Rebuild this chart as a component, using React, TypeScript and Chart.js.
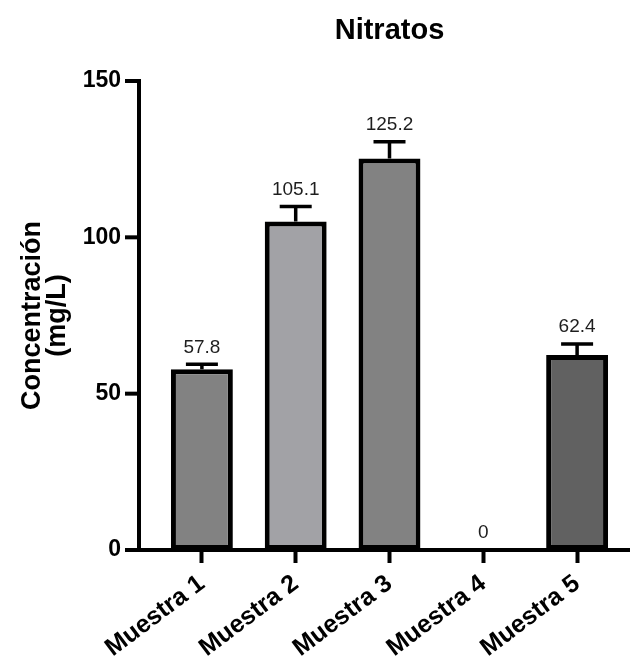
import React, { useEffect, useRef } from "react";
import { Chart, registerables } from "chart.js";

Chart.register(...registerables);

const categories = ["Muestra 1", "Muestra 2", "Muestra 3", "Muestra 4", "Muestra 5"];
const values = [57.8, 105.1, 125.2, 0, 62.4];
const errors = [1.6, 4.8, 5.4, 0, 3.5];
const barColors = ["#828282", "#a2a2a6", "#828282", "#828282", "#616161"];
const yTicks = [0, 50, 100, 150];

const FONT = "'Liberation Sans', Arial, Helvetica, sans-serif";

const decorPlugin = {
  id: "decor",
  afterDatasetsDraw(chart: any) {
    const { ctx, chartArea } = chart;
    const y = chart.scales.y;
    const axisX = chartArea.left - 16;
    ctx.save();
    ctx.strokeStyle = "#000";
    ctx.fillStyle = "#000";
    const meta = chart.getDatasetMeta(0);
    values.forEach((v, i) => {
      const bar = meta.data[i];
      const cx = bar.x;
      const topPx = y.getPixelForValue(v);
      let labelRef = topPx;
      if (errors[i] > 0) {
        const ePx = y.getPixelForValue(v + errors[i]);
        ctx.lineWidth = 3.5;
        ctx.beginPath();
        ctx.moveTo(cx, topPx);
        ctx.lineTo(cx, ePx);
        ctx.moveTo(cx - 16, ePx);
        ctx.lineTo(cx + 16, ePx);
        ctx.stroke();
        labelRef = ePx;
      }
      ctx.font = `19px ${FONT}`;
      ctx.fillStyle = "#1e1e1e";
      ctx.textAlign = "center";
      ctx.textBaseline = "middle";
      ctx.fillText(String(v), cx, labelRef - 17);
    });
    ctx.lineWidth = 4;
    ctx.lineCap = "butt";
    ctx.beginPath();
    ctx.moveTo(axisX, y.getPixelForValue(150) - 2);
    ctx.lineTo(axisX, chartArea.bottom + 2);
    ctx.stroke();
    yTicks.forEach((t) => {
      const py = y.getPixelForValue(t);
      ctx.beginPath();
      ctx.moveTo(axisX - 14, py);
      ctx.lineTo(axisX, py);
      ctx.stroke();
    });
    ctx.beginPath();
    ctx.moveTo(axisX - 14, chartArea.bottom);
    ctx.lineTo(chart.width, chartArea.bottom);
    ctx.stroke();
    ctx.restore();
  },
};

export default function App() {
  const ref = useRef<HTMLCanvasElement | null>(null);
  useEffect(() => {
    document.body.style.margin = "0";
    const canvas = ref.current;
    if (!canvas) return;
    const chart = new Chart(canvas, {
      type: "bar",
      data: {
        labels: categories,
        datasets: [
          {
            data: values,
            backgroundColor: barColors,
            borderColor: "#000",
            borderWidth: 5,
            borderSkipped: false,
            categoryPercentage: 1,
            barPercentage: 0.66,
          },
        ],
      },
      options: {
        animation: false,
        responsive: true,
        maintainAspectRatio: false,
        layout: { padding: { left: 0, right: 6, top: 0, bottom: 0 } },
        plugins: {
          legend: { display: false },
          tooltip: { enabled: false },
          title: {
            display: true,
            text: "Nitratos",
            fullSize: false,
            color: "#000",
            font: { family: FONT, size: 29, weight: "bold", lineHeight: 1.2 },
            padding: { top: 13.6, bottom: 32.6 },
          },
        },
        scales: {
          x: {
            offset: true,
            grid: {
              offset: false,
              display: true,
              drawOnChartArea: false,
              drawTicks: true,
              tickLength: 13,
              tickWidth: 4,
              tickColor: "#000",
            },
            border: { display: false },
            ticks: {
              color: "#000",
              font: { family: FONT, size: 25, weight: "bold" },
              minRotation: 37,
              maxRotation: 37,
              padding: 6,
            },
            afterFit: (s: any) => {
              s.height = 115;
            },
          },
          y: {
            min: 0,
            max: 150,
            grid: { display: false, drawTicks: false },
            border: { display: false },
            ticks: {
              stepSize: 50,
              color: "#000",
              font: { family: FONT, size: 23, weight: "bold" },
              padding: 34,
            },
            title: {
              display: true,
              text: ["Concentración", "(mg/L)"],
              color: "#000",
              font: { family: FONT, size: 27, weight: "bold", lineHeight: "25px" },
              padding: { top: 20.5, bottom: 0 },
            },
            afterFit: (s: any) => {
              s.width = 155;
            },
          },
        },
      },
      plugins: [decorPlugin],
    });
    return () => chart.destroy();
  }, []);
  return (
    <div style={{ width: 630, height: 665, position: "relative", background: "#fff" }}>
      <canvas ref={ref} />
    </div>
  );
}
